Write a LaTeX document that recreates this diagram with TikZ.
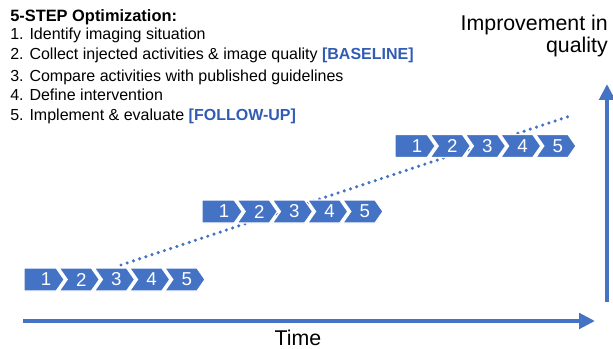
\documentclass[tikz,border=0pt]{standalone}
\usepackage{fontspec}
\setmainfont{Liberation Sans}
\usetikzlibrary{arrows.meta}
\definecolor{stepblue}{RGB}{68,114,196}
\definecolor{tagblue}{RGB}{50,92,180}

\begin{document}
\begin{tikzpicture}[x=0.75pt,y=0.75pt,yscale=-1,xscale=1,
  stepbox/.style={fill=stepblue, draw=white, line width=0.9pt, line join=miter},
  steplabel/.style={inner sep=0pt, text=white, font=\fontsize{14}{14}\selectfont},
  axis/.style={draw=stepblue, line width=3pt, -{Triangle[length=12pt,width=11.5pt]}},
  dotline/.style={draw=stepblue, line width=2.6pt, line cap=round, dash pattern=on 0pt off 4.9pt},
  listtext/.style={anchor=base west, inner sep=0pt, font=\fontsize{12}{14}\selectfont},
  axislabel/.style={inner sep=0pt, font=\fontsize{16}{16}\selectfont}]
\useasboundingbox (0,0) rectangle (613,349);

%Dotted trend line
\coordinate (dotS) at (121,265);
\coordinate (dotE) at (573,115);
\draw [dotline] (dotS) -- (dotE);

%Baseline steps
\draw [stepbox] (24,268) -- ++(32.2,0) -- ++(8,11.5) -- ++(-8,11.5) -- ++(-32.2,0) -- cycle;
\draw [stepbox] (59.2,268) -- ++(32.2,0) -- ++(8,11.5) -- ++(-8,11.5) -- ++(-32.2,0) -- ++(8,-11.5) -- cycle;
\draw [stepbox] (94.4,268) -- ++(32.2,0) -- ++(8,11.5) -- ++(-8,11.5) -- ++(-32.2,0) -- ++(8,-11.5) -- cycle;
\draw [stepbox] (129.6,268) -- ++(32.2,0) -- ++(8,11.5) -- ++(-8,11.5) -- ++(-32.2,0) -- ++(8,-11.5) -- cycle;
\draw [stepbox] (164.8,268) -- ++(32.2,0) -- ++(8,11.5) -- ++(-8,11.5) -- ++(-32.2,0) -- ++(8,-11.5) -- cycle;
\node [steplabel] (b1) at (46,279.5) {1};
\node [steplabel] (b2) at (81.2,279.5) {2};
\node [steplabel] (b3) at (116.4,279.5) {3};
\node [steplabel] (b4) at (151.6,279.5) {4};
\node [steplabel] (b5) at (186.8,279.5) {5};

%Second round of steps
\draw [stepbox] (202,200) -- ++(32.2,0) -- ++(8,11.5) -- ++(-8,11.5) -- ++(-32.2,0) -- cycle;
\draw [stepbox] (237.2,200) -- ++(32.2,0) -- ++(8,11.5) -- ++(-8,11.5) -- ++(-32.2,0) -- ++(8,-11.5) -- cycle;
\draw [stepbox] (272.4,200) -- ++(32.2,0) -- ++(8,11.5) -- ++(-8,11.5) -- ++(-32.2,0) -- ++(8,-11.5) -- cycle;
\draw [stepbox] (307.6,200) -- ++(32.2,0) -- ++(8,11.5) -- ++(-8,11.5) -- ++(-32.2,0) -- ++(8,-11.5) -- cycle;
\draw [stepbox] (342.8,200) -- ++(32.2,0) -- ++(8,11.5) -- ++(-8,11.5) -- ++(-32.2,0) -- ++(8,-11.5) -- cycle;
\node [steplabel] (m1) at (224,211.5) {1};
\node [steplabel] (m2) at (259.2,211.5) {2};
\node [steplabel] (m3) at (294.4,211.5) {3};
\node [steplabel] (m4) at (329.6,211.5) {4};
\node [steplabel] (m5) at (364.8,211.5) {5};

%Follow-up steps
\draw [stepbox] (395,134.5) -- ++(32.2,0) -- ++(8,11.5) -- ++(-8,11.5) -- ++(-32.2,0) -- cycle;
\draw [stepbox] (430.2,134.5) -- ++(32.2,0) -- ++(8,11.5) -- ++(-8,11.5) -- ++(-32.2,0) -- ++(8,-11.5) -- cycle;
\draw [stepbox] (465.4,134.5) -- ++(32.2,0) -- ++(8,11.5) -- ++(-8,11.5) -- ++(-32.2,0) -- ++(8,-11.5) -- cycle;
\draw [stepbox] (500.6,134.5) -- ++(32.2,0) -- ++(8,11.5) -- ++(-8,11.5) -- ++(-32.2,0) -- ++(8,-11.5) -- cycle;
\draw [stepbox] (535.8,134.5) -- ++(32.2,0) -- ++(8,11.5) -- ++(-8,11.5) -- ++(-32.2,0) -- ++(8,-11.5) -- cycle;
\node [steplabel] (f1) at (417,146) {1};
\node [steplabel] (f2) at (452.2,146) {2};
\node [steplabel] (f3) at (487.4,146) {3};
\node [steplabel] (f4) at (522.6,146) {4};
\node [steplabel] (f5) at (557.8,146) {5};

%Axes
\coordinate (t0) at (23,321);
\coordinate (t1) at (595,321);
\draw [axis] (t0) -- (t1);
\coordinate (q0) at (607,302);
\coordinate (q1) at (607,84);
\draw [axis] (q0) -- (q1);

% Text Node
\node [axislabel, anchor=base] (time) at (298,345) {Time};
% Text Node
\node [axislabel, anchor=base east] (improve) at (608,31) {Improvement in};
\node [axislabel, anchor=base east] (quality) at (608,53) {quality};

% Text Node
\node [listtext, font=\fontsize{12.3}{14}\selectfont\bfseries] (title) at (10,22) {5-STEP Optimization:};
\node [listtext] (item1) at (10,40) {1. Identify imaging situation};
\node [listtext] (item2) at (10,60) {2. Collect injected activities \& image quality {\color{tagblue}\bfseries [BASELINE]}};
\node [listtext] (item3) at (10,82) {3. Compare activities with published guidelines};
\node [listtext] (item4) at (10,101) {4. Define intervention};
\node [listtext] (item5) at (10,121) {5. Implement \& evaluate {\color{tagblue}\bfseries [FOLLOW-UP]}};

\end{tikzpicture}
\end{document}
